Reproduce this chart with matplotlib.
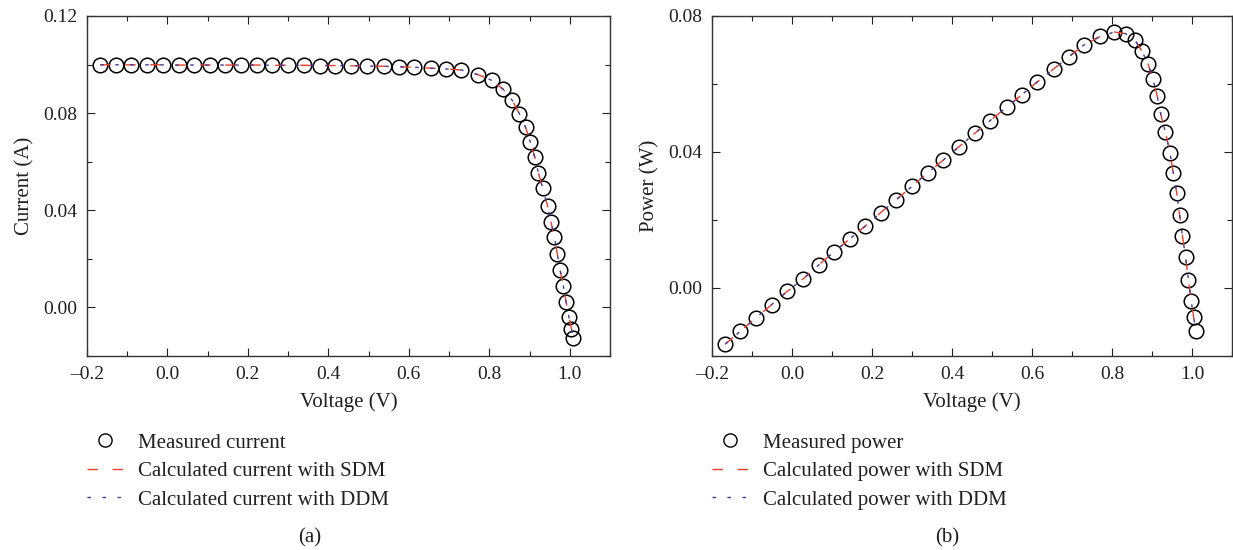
import matplotlib
matplotlib.use("Agg")
import matplotlib.pyplot as plt
from matplotlib.lines import Line2D
from matplotlib.ticker import MultipleLocator, FuncFormatter

plt.rcParams['font.family'] = ['Liberation Serif', 'DejaVu Serif']
plt.rcParams['font.size'] = 15

# values
voltage = [-0.167, -0.129, -0.090, -0.051, -0.012, 0.028, 0.067, 0.106, 0.144, 0.182,
           0.222, 0.259, 0.300, 0.339, 0.378, 0.417, 0.457, 0.495, 0.537, 0.575,
           0.613, 0.654, 0.692, 0.730, 0.771, 0.806, 0.834, 0.857, 0.875, 0.890,
           0.902, 0.913, 0.922, 0.933, 0.945, 0.953, 0.962, 0.969, 0.976, 0.984,
           0.991, 0.998, 1.004, 1.009]
current = [0.0999, 0.0999, 0.0999, 0.0999, 0.0999, 0.0998, 0.0998, 0.0998, 0.0998, 0.0998,
           0.0998, 0.0997, 0.0997, 0.0997, 0.0996, 0.0996, 0.0995, 0.0994, 0.0993, 0.0991,
           0.0989, 0.0985, 0.0982, 0.0978, 0.0959, 0.0935, 0.0899, 0.0853, 0.0797, 0.0742,
           0.0681, 0.0619, 0.0554, 0.0491, 0.0417, 0.0353, 0.0289, 0.0221, 0.0154, 0.0089,
           0.0023, -0.0041, -0.0087, -0.0126]
power = [-0.0165, -0.0127, -0.0088, -0.0049, -0.0010, 0.0027, 0.0068, 0.0107, 0.0144, 0.0181,
         0.0222, 0.0258, 0.0299, 0.0339, 0.0376, 0.0415, 0.0455, 0.0492, 0.0532, 0.0569,
         0.0606, 0.0644, 0.0680, 0.0715, 0.0740, 0.0753, 0.0748, 0.0730, 0.0696, 0.0660,
         0.0615, 0.0565, 0.0511, 0.0460, 0.0398, 0.0339, 0.0279, 0.0216, 0.0154, 0.0090,
         0.0025, -0.0039, -0.0084, -0.0125]
# model curves sit on top of the measured points at this scale
current_sdm = current
current_ddm = current
power_sdm = power
power_ddm = power

red = '#ec3d26'
blue = '#3d3aa0'
ink = '#231f20'
red_dash = (7.5, 10.5)
blue_dash = (2.5, 8.3)

W, H = 1233, 550
fig = plt.figure(figsize=(W / 100, H / 100), dpi=100)
ax1 = fig.add_axes([87 / W, (H - 356) / H, 523 / W, 340 / H])
ax2 = fig.add_axes([712 / W, (H - 356) / H, 520 / W, 340 / H])


def fmt(nd):
    return FuncFormatter(lambda v, p: ('%.*f' % (nd, v)).replace('-', '\u2013'))


def draw(ax, y, y_sdm, y_ddm, ylim, ystep, ylabel):
    ax.plot(voltage, y, 'o', ms=10.5, mfc='none', mec='black', mew=1.1)
    ax.plot(voltage, y_sdm, color=red, lw=1.0, dashes=red_dash)
    ax.plot(voltage, y_ddm, color=blue, lw=1.0, dashes=blue_dash)
    ax.set_xlim(-0.2, 1.1)
    ax.set_ylim(*ylim)
    ax.xaxis.set_major_locator(MultipleLocator(0.2))
    ax.xaxis.set_minor_locator(MultipleLocator(0.1))
    ax.yaxis.set_major_locator(MultipleLocator(ystep))
    ax.yaxis.set_minor_locator(MultipleLocator(ystep / 2))
    ax.xaxis.set_major_formatter(fmt(1))
    ax.yaxis.set_major_formatter(fmt(2))
    ax.tick_params(which='both', direction='in', top=True, right=True,
                   width=0.8, color=ink, labelcolor=ink, labelsize=14, pad=7)
    ax.tick_params(which='major', length=6)
    ax.tick_params(which='minor', length=3.5)
    for s in ax.spines.values():
        s.set_linewidth(1.0)
        s.set_color('#333333')
    ax.set_xlabel('Voltage (V)', color=ink, labelpad=7)
    ax.set_ylabel(ylabel, color=ink, labelpad=6)
    handles = [
        Line2D([], [], ls='none', marker='o', ms=9.5, mfc='none', mec='black', mew=1.0),
        Line2D([], [], color=red, lw=1.0, dashes=red_dash),
        Line2D([], [], color=blue, lw=1.0, dashes=blue_dash),
    ]
    return handles


h1 = draw(ax1, current, current_sdm, current_ddm, (-0.02, 0.12), 0.04, 'Current (A)')
h2 = draw(ax2, power, power_sdm, power_ddm, (-0.02, 0.08), 0.04, 'Power (W)')

names1 = ['Measured current', 'Calculated current with SDM', 'Calculated current with DDM']
names2 = ['Measured power', 'Calculated power with SDM', 'Calculated power with DDM']

for h, n, x0 in [(h1, names1, 87), (h2, names2, 712)]:
    fig.legend(h, n, loc='upper left', bbox_to_anchor=(x0 / W, (H - 433) / H),
               frameon=False, fontsize=15, handlelength=1.73, handletextpad=0.72,
               labelspacing=0.43, borderpad=0, borderaxespad=0, labelcolor=ink)

fig.text(310 / W, (H - 538) / H, '(a)', ha='center', va='center', color=ink, fontsize=15)
fig.text(947 / W, (H - 538) / H, '(b)', ha='center', va='center', color=ink, fontsize=15)

fig.savefig('out.png', dpi=100)
